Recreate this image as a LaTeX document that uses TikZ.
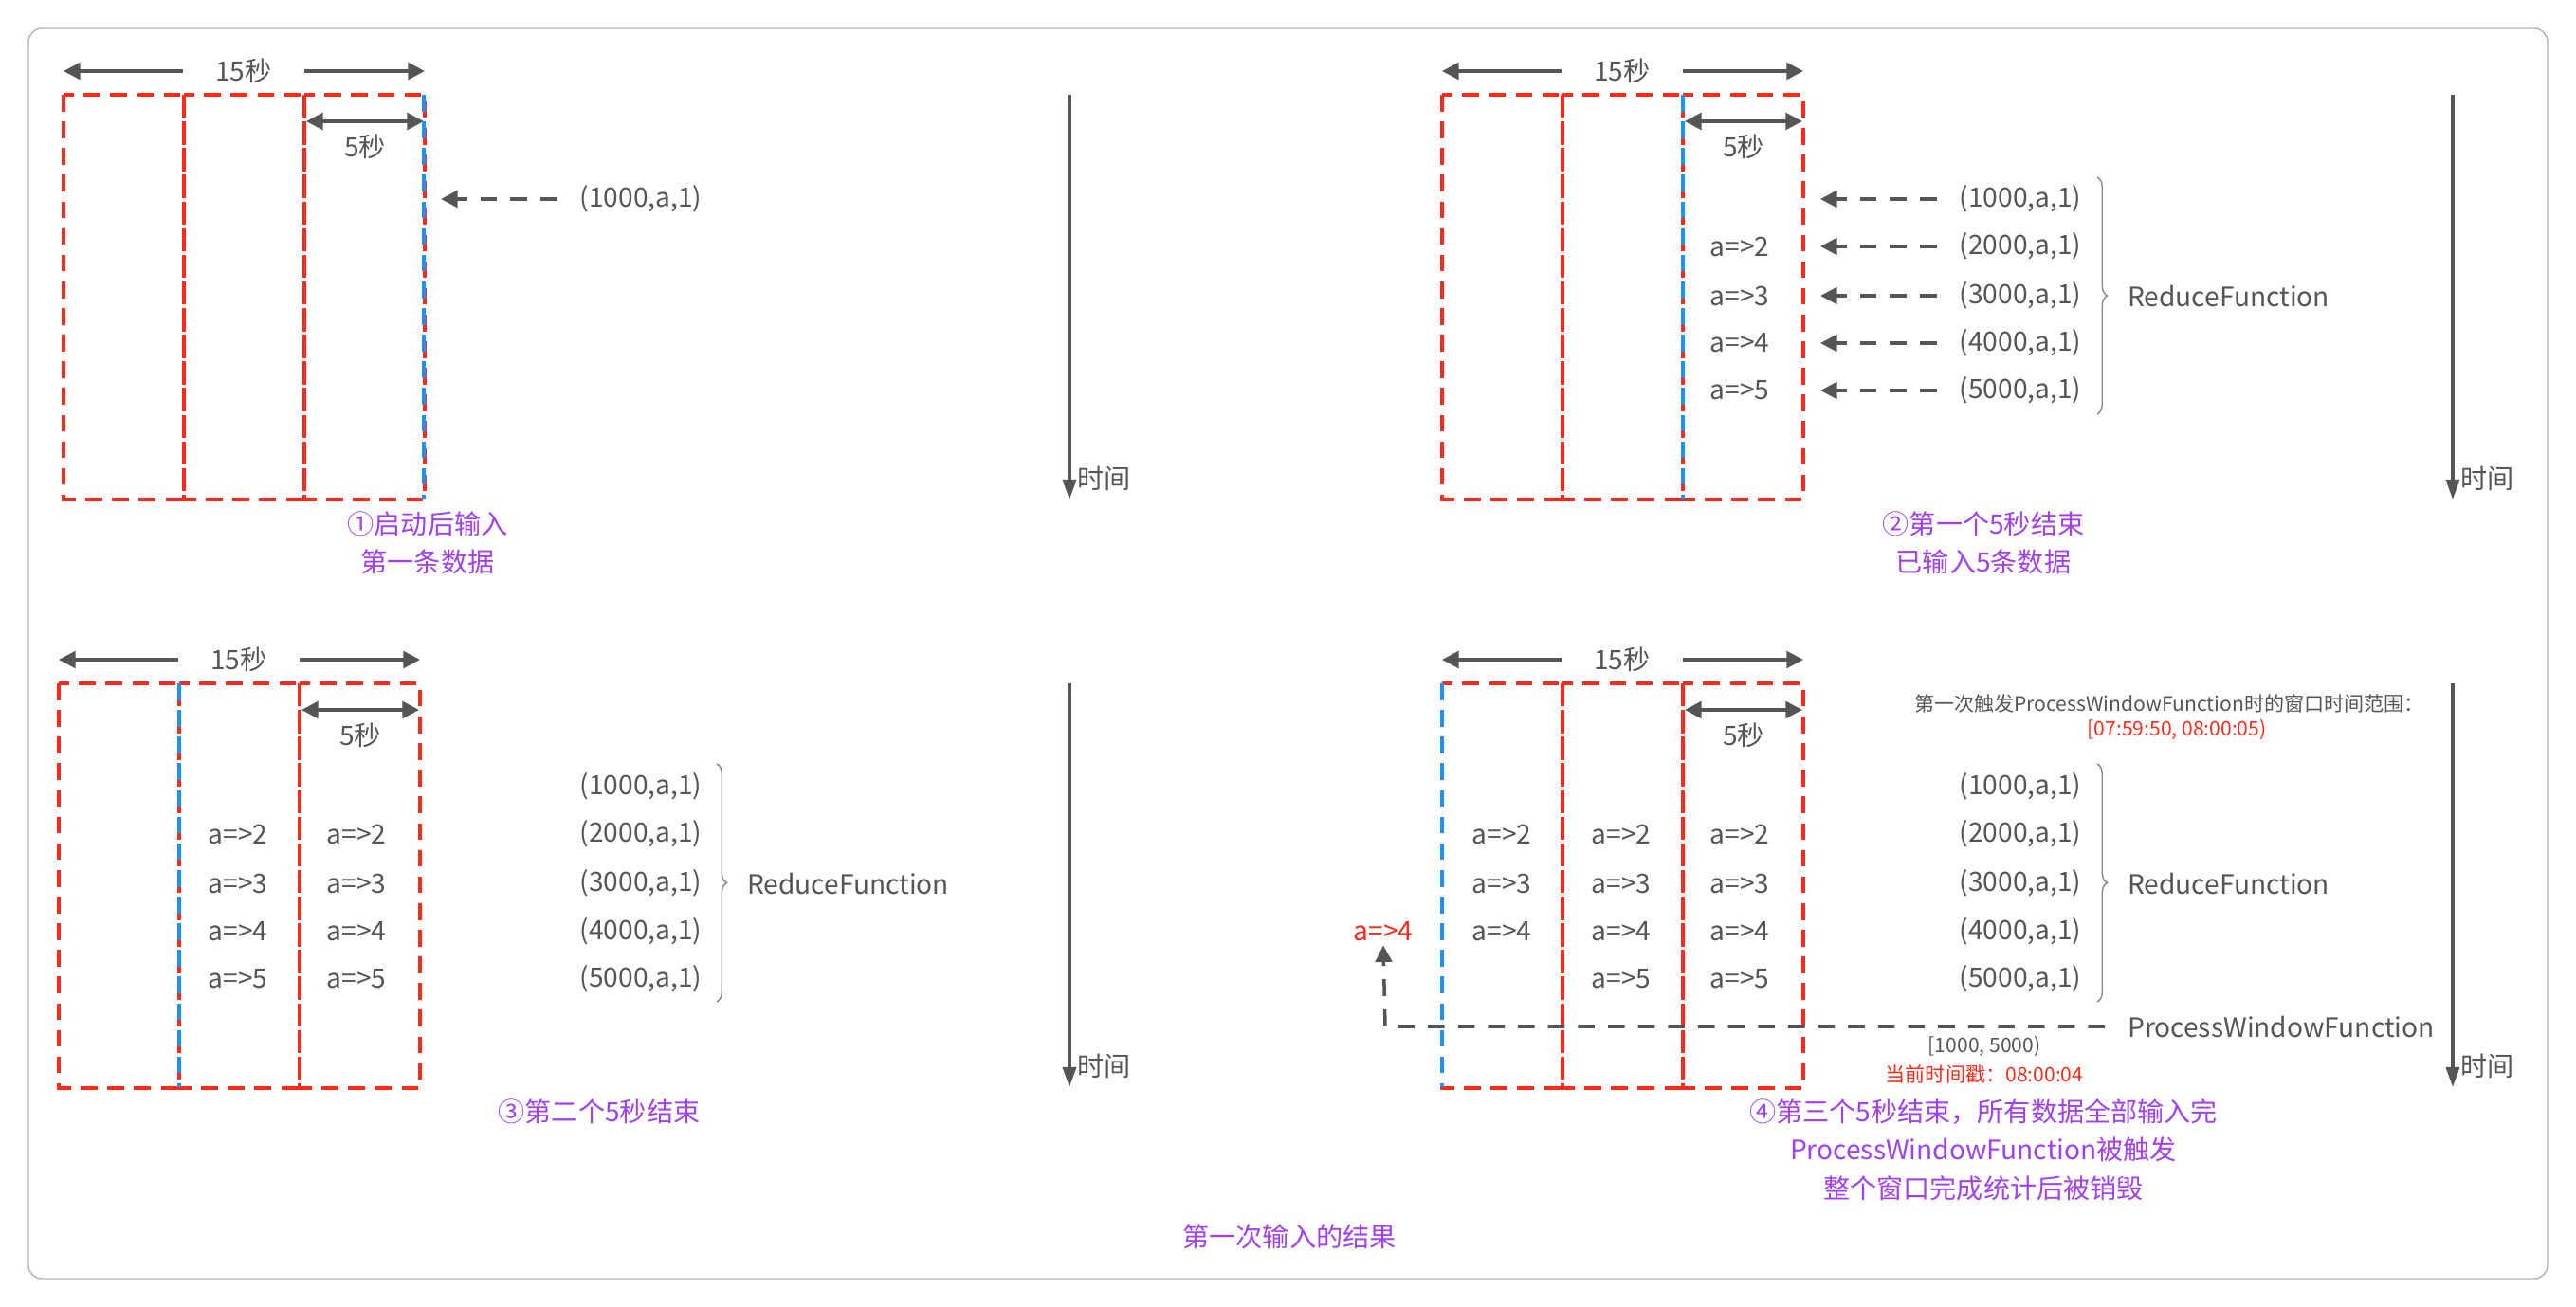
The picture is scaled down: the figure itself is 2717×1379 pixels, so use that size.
\documentclass[tikz,border=0pt]{standalone}
\usepackage{fontspec}
\setmainfont{Noto Sans CJK SC}
\usetikzlibrary{arrows.meta,decorations.pathreplacing}
\definecolor{winred}{HTML}{FF2A1A}
\definecolor{winblue}{HTML}{1E90FF}
\definecolor{txtgray}{HTML}{555555}
\definecolor{capviolet}{HTML}{A040F0}
\begin{document}
\begin{tikzpicture}[x=0.01cm, y=-0.01cm,
        every node/.style={inner sep=1pt, text=txtgray, font=\fontsize{8}{10}\selectfont},
        winbox/.style={draw=winred, line width=1.1pt, dash pattern=on 5pt off 3pt},
        curline/.style={draw=winblue, line width=1.1pt, dash pattern=on 5pt off 3pt},
        dimarrow/.style={draw=txtgray, line width=1pt, -{Triangle[length=5pt,width=5pt]}},
        bothdim/.style={draw=txtgray, line width=1pt, {Triangle[length=5pt,width=5pt]}-{Triangle[length=5pt,width=5pt]}},
        inarrow/.style={draw=txtgray, line width=1pt, dash pattern=on 5pt off 4pt, -{Triangle[length=5pt,width=5pt]}},
        timeline/.style={draw=txtgray, line width=1pt, -{Triangle[length=6pt,width=4pt]}},
        brc/.style={draw=txtgray!70, thin, decorate, decoration={brace, amplitude=3pt}},
        caption/.style={text=capviolet, align=center, font=\fontsize{8}{11.5}\selectfont},
        small/.style={font=\fontsize{6}{8}\selectfont}
    ]
        \useasboundingbox (0,0) rectangle (2717,1379);
        % outer frame
        \draw[gray!60, rounded corners=4pt] (30,30) rectangle (2687,1349);

        % one window with three panes: #1 left x, #2 top y
        \newcommand{\windowpanes}[3]{%
            \foreach \i in {0,1,2} {
                \draw[winbox] ({#1+\i*127},#2) rectangle ({#1+(\i+1)*127},{#2+427});
            }
            \node (#3s15) at ({#1+190},{#2-25}) {15秒};
            \draw[dimarrow] (#3s15.west) ++(-30,0) -- ({#1},{#2-25});
            \draw[dimarrow] (#3s15.east) ++(30,0) -- ({#1+381},{#2-25});
            \draw[bothdim] ({#1+256},{#2+28}) -- ({#1+380},{#2+28});
            \node (#3s5) at ({#1+318},{#2+55}) {5秒};
        }

        % ---- panel 1
        \windowpanes{67}{100}{pa}
        \draw[curline] (447,100) -- (447,527);
        \node (pa1) at (676,210) {(1000,a,1)};
        \coordinate (pae1) at (465,210);
        \draw[inarrow] (pa1.west) ++(-20,0) -- (pae1);
        \draw[timeline] (1128,100) -- (1128,527) node[anchor=south west, inner sep=2pt] (pat) {时间};
        \node[caption] (pacap) at (451,573) {①启动后输入\\第一条数据};

        % ---- panel 2
        \windowpanes{1521}{100}{pb}
        \draw[curline] (1775,100) -- (1775,527);
        \foreach \k/\y in {1/210,2/260,3/312,4/362,5/412} {
            \node (pb\k) at (2131,\y) {(\k000,a,1)};
            \coordinate (pbe\k) at (1920,\y);
            \draw[inarrow] (pb\k.west) ++(-20,0) -- (pbe\k);
        }
        \foreach \k/\y in {2/260,3/312,4/362,5/412} {
            \node (pbv\k) at (1835,\y) {a=>\k};
        }
        \draw[brc] (2212,187) -- (2212,437);
        \node[anchor=west] (pbred) at (2240,312) {ReduceFunction};
        \draw[timeline] (2587,100) -- (2587,527) node[anchor=south west, inner sep=2pt] (pbt) {时间};
        \node[caption] (pbcap) at (2092,573) {②第一个5秒结束\\已输入5条数据};

        % ---- panel 3
        \windowpanes{62}{721}{pc}
        \draw[curline] (189,721) -- (189,1147);
        \foreach \k/\y in {1/830,2/880,3/932,4/983,5/1033} {
            \node (pc\k) at (676,\y) {(\k000,a,1)};
        }
        \foreach \k/\y in {2/880,3/932,4/983,5/1033} {
            \node (pcv\k) at (251,\y) {a=>\k};
            \node (pcw\k) at (376,\y) {a=>\k};
        }
        \draw[brc] (756,806) -- (756,1057);
        \node[anchor=west] (pcred) at (784,932) {ReduceFunction};
        \draw[timeline] (1128,721) -- (1128,1147) node[anchor=south west, inner sep=2pt] (pct) {时间};
        \node[caption] (pccap) at (632,1173) {③第二个5秒结束};

        % ---- panel 4
        \windowpanes{1521}{721}{pd}
        \draw[curline] (1521,721) -- (1521,1147);
        \foreach \k/\y in {1/830,2/880,3/932,4/983,5/1033} {
            \node (pd\k) at (2131,\y) {(\k000,a,1)};
        }
        \foreach \k/\y in {2/880,3/932,4/983} {
            \node (pdu\k) at (1584,\y) {a=>\k};
        }
        \foreach \k/\y in {2/880,3/932,4/983,5/1033} {
            \node (pdv\k) at (1710,\y) {a=>\k};
            \node (pdw\k) at (1835,\y) {a=>\k};
        }
        \draw[brc] (2212,806) -- (2212,1057);
        \node[anchor=west] (pdred) at (2240,932) {ReduceFunction};
        \node[small] (pdrng) at (2288,742) {第一次触发ProcessWindowFunction时的窗口时间范围：};
        \node[small, text=winred] (pdwin) at (2296,770) {[07:59:50, 08:00:05)};
        \node[anchor=west] (pdpwf) at (2240,1083) {ProcessWindowFunction};
        \node[text=winred] (pdres) at (1459,983) {a=>4};
        \coordinate (pdk) at (1461,1083);
        \draw[inarrow] (pdpwf.west) ++(-20,0) -- (pdk) -- (pdres.south);
        \node[small] (pdint) at (2093,1104) {[1000, 5000)};
        \node[small, text=winred] (pdts) at (2093,1133) {当前时间戳：08:00:04};
        \draw[timeline] (2587,721) -- (2587,1147) node[anchor=south west, inner sep=2pt] (pdt) {时间};
        \node[caption] (pdcap) at (2092,1213) {④第三个5秒结束，所有数据全部输入完\\ProcessWindowFunction被触发\\整个窗口完成统计后被销毁};

        \node[caption] (title) at (1360,1305) {第一次输入的结果};
    \end{tikzpicture}
\end{document}
